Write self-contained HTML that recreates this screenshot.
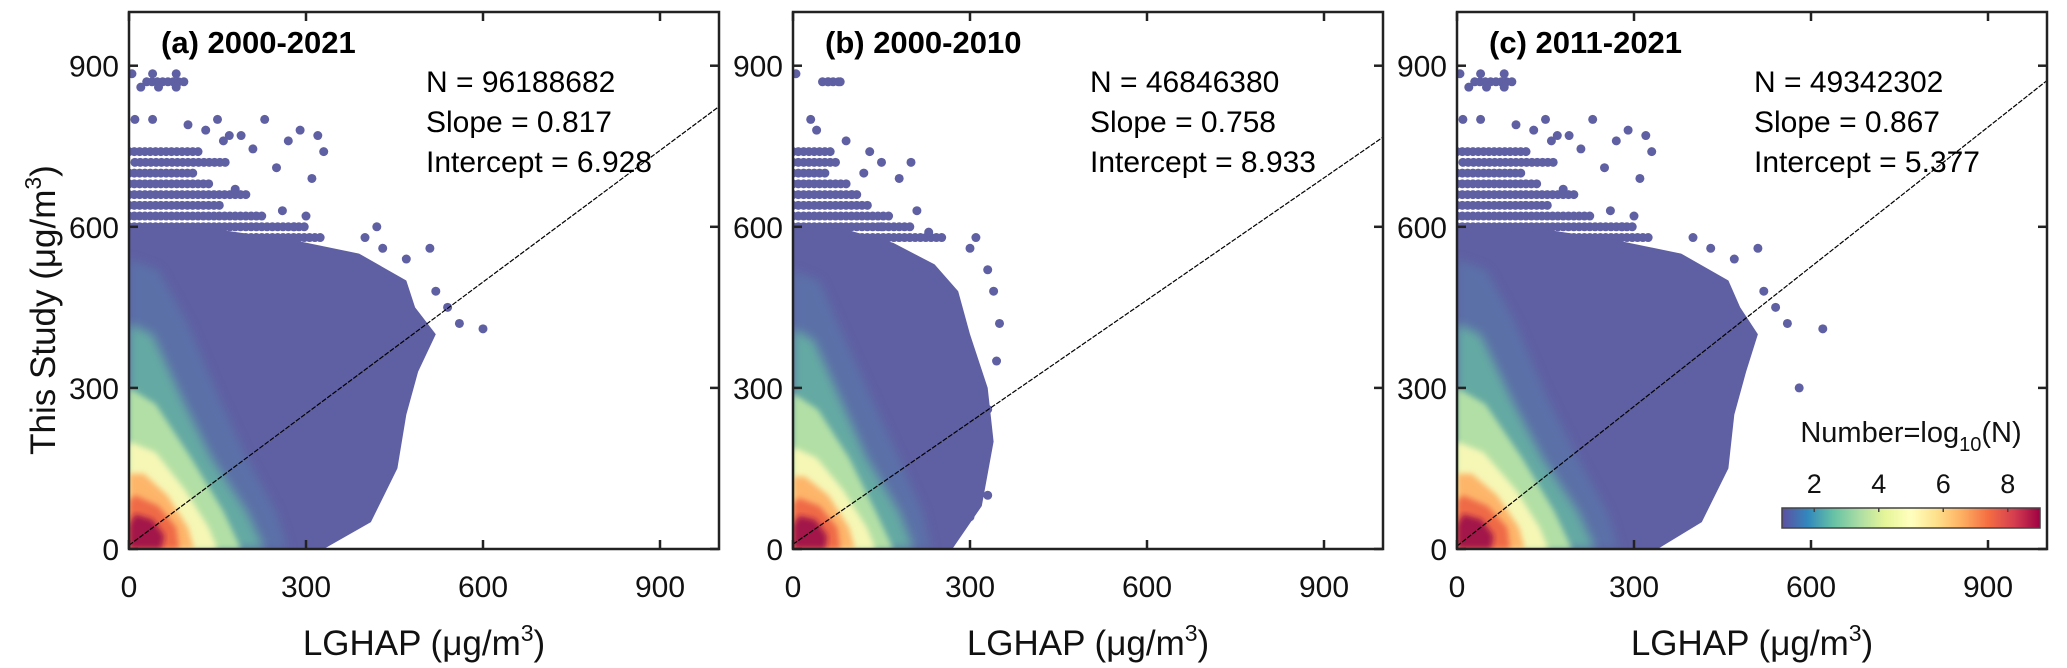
<!DOCTYPE html>
<html><head><meta charset="utf-8">
<style>
body{margin:0;background:#fff;}
svg{display:block;font-family:"Liberation Sans",Arial,sans-serif;}
</style></head>
<body>
<svg id="fig" width="2067" height="668" viewBox="0 0 2067 668" xmlns="http://www.w3.org/2000/svg">
<defs>
<filter id="blur" x="-10%" y="-10%" width="120%" height="120%"><feGaussianBlur stdDeviation="5"/></filter>
<filter id="blur2" x="-10%" y="-10%" width="120%" height="120%"><feGaussianBlur stdDeviation="3"/></filter>
<linearGradient id="spectral" x1="0" x2="1" y1="0" y2="0">
<stop offset="0" stop-color="#5e4fa2"/><stop offset="0.1" stop-color="#3288bd"/><stop offset="0.2" stop-color="#66c2a5"/>
<stop offset="0.3" stop-color="#abdda4"/><stop offset="0.4" stop-color="#e6f598"/><stop offset="0.5" stop-color="#ffffbf"/>
<stop offset="0.6" stop-color="#fee08b"/><stop offset="0.7" stop-color="#fdae61"/><stop offset="0.8" stop-color="#f46d43"/>
<stop offset="0.9" stop-color="#d53e4f"/><stop offset="1" stop-color="#9e0142"/>
</linearGradient>
</defs>
<g id="panels"></g>
<g id="cbar"></g>
</svg>
<script>
// ---- data ----
const panelTitles = ["(a) 2000-2021", "(b) 2000-2010", "(c) 2011-2021"];
const nValues = ["96188682", "46846380", "49342302"];
const slopes = [0.817, 0.758, 0.867];
const intercepts = [6.928, 8.933, 5.377];
const tickValues = [0, 300, 600, 900];
const cbarTicks = [2, 4, 6, 8];
const cbarRange = [1, 9];
const layerColors = ["#5f5fa3", "#5a78aa", "#66b4a3", "#b2dfa5", "#f6f7b5", "#fdb56a", "#ef6a47", "#a3154a"];
// density envelopes (data coords [LGHAP, ThisStudy]) per panel, per layer
const layersA = [
 [[0,0],[330,0],[410,50],[455,150],[470,250],[490,330],[520,400],[485,450],[470,500],[390,550],[280,575],[150,595],[0,600]],
 [[0,0],[270,0],[250,70],[200,170],[150,290],[100,420],[50,520],[0,540]],
 [[0,0],[230,0],[200,70],[140,170],[90,280],[40,400],[0,420]],
 [[0,0],[190,0],[160,70],[105,170],[45,270],[0,300]],
 [[0,0],[150,0],[135,40],[95,110],[45,180],[0,200]],
 [[0,0],[110,0],[100,40],[65,100],[25,140],[0,140]],
 [[0,0],[85,0],[80,40],[50,80],[10,100],[0,90]],
 [[0,0],[55,0],[60,25],[40,55],[10,65],[0,45]]
];
const layersB = [
 [[0,0],[270,0],[320,80],[340,200],[330,300],[300,400],[280,480],[240,530],[170,570],[90,595],[0,600]],
 [[0,0],[235,0],[220,70],[180,170],[130,290],[85,400],[45,500],[0,520]],
 [[0,0],[205,0],[180,70],[125,170],[80,280],[35,390],[0,410]],
 [[0,0],[170,0],[140,70],[95,170],[42,260],[0,290]],
 [[0,0],[140,0],[125,40],[85,110],[40,170],[0,190]],
 [[0,0],[105,0],[95,40],[60,100],[20,135],[0,135]],
 [[0,0],[80,0],[75,40],[45,80],[10,95],[0,85]],
 [[0,0],[55,0],[58,25],[38,55],[10,62],[0,45]]
];
const layersC = [
 [[0,0],[340,0],[415,50],[460,150],[470,250],[490,330],[510,400],[480,450],[460,500],[380,550],[270,575],[150,595],[0,600]],
 [[0,0],[275,0],[255,70],[205,170],[150,290],[100,420],[50,520],[0,540]],
 [[0,0],[235,0],[205,70],[145,170],[92,280],[40,400],[0,420]],
 [[0,0],[195,0],[165,70],[110,170],[48,270],[0,300]],
 [[0,0],[155,0],[140,40],[100,110],[45,180],[0,200]],
 [[0,0],[115,0],[105,40],[68,100],[25,140],[0,140]],
 [[0,0],[90,0],[85,40],[52,80],[10,100],[0,90]],
 [[0,0],[58,0],[62,25],[42,55],[10,65],[0,45]]
];
// sparse rows [y, x0, x1] and isolated outliers [x, y]
const rowsA = [[870,30,100],[740,0,120],[720,10,170],[700,0,110],[680,0,140],[660,0,200],[640,0,160],[620,0,230],[600,0,300],[580,0,330]];
const rowsB = [[870,50,80],[740,0,70],[720,0,80],[700,0,60],[680,0,90],[660,0,110],[640,0,130],[620,0,170],[600,0,200],[580,0,260]];
const rowsC = [[870,30,100],[740,0,120],[720,10,170],[700,0,110],[680,0,140],[660,0,200],[640,0,160],[620,0,230],[600,0,300],[580,0,330]];
const outA = [[5,885],[40,885],[80,885],[20,860],[50,860],[80,860],[10,800],[40,800],[100,790],[150,800],[130,780],[230,800],[170,770],[190,770],[160,760],[210,745],[270,760],[290,780],[320,770],[330,740],[250,710],[310,690],[180,670],[280,600],[260,630],[300,620],[400,580],[430,560],[470,540],[560,420],[600,410],[520,480],[510,560],[350,520],[540,450],[420,600]];
const outB = [[5,885],[60,870],[80,870],[30,800],[40,780],[90,760],[130,740],[150,720],[200,720],[120,700],[180,690],[100,660],[210,630],[150,600],[230,590],[310,580],[300,560],[330,520],[340,480],[350,420],[345,350],[330,260],[310,220],[320,150],[300,60],[330,100]];
const outC = [[5,885],[40,885],[80,885],[20,860],[50,860],[80,860],[10,800],[40,800],[100,790],[150,800],[130,780],[230,800],[170,770],[190,770],[160,760],[210,745],[270,760],[290,780],[320,770],[330,740],[250,710],[310,690],[180,670],[280,600],[260,630],[300,620],[400,580],[430,560],[470,540],[560,420],[620,410],[520,480],[510,560],[350,520],[540,450],[580,300]];
const allLayers = [layersA, layersB, layersC];
const allRows = [rowsA, rowsB, rowsC];
const allOut = [outA, outB, outC];

// ---- layout ----
const NS = "http://www.w3.org/2000/svg";
const lefts = [129, 793, 1457];
const W = 590, TOP = 12, BOT = 549, MAXV = 1000;
function el(tag, attrs, parent, text){
  const e = document.createElementNS(NS, tag);
  for (const k in attrs) e.setAttribute(k, attrs[k]);
  if (text !== undefined) e.textContent = text;
  parent.appendChild(e); return e;
}
const root = document.getElementById("panels");
for (let p = 0; p < 3; p++){
  const L = lefts[p];
  const X = v => L + v / MAXV * W;
  const Y = v => BOT - v / MAXV * (BOT - TOP);
  const g = el("g", {}, root);
  
  
  const cid = "clip" + p;
  const cp = el("clipPath", {id: cid}, g);
  el("rect", {x: L, y: TOP, width: W, height: BOT - TOP}, cp);
  const plot = el("g", {"clip-path": "url(#" + cid + ")"}, g);
  
  
  allRows[p].forEach(r => {
    for (let x = r[1]; x <= r[2]; x += 9){
      const c = el("circle", {cx: X(x), cy: Y(r[0]), r: 4.5, fill: layerColors[0]}, plot);
      
      
    }
  });
  allOut[p].forEach(o => {
    const c = el("circle", {cx: X(o[0]), cy: Y(o[1]), r: 4.5, fill: layerColors[0]}, plot);
    
    
  });
  allLayers[p].forEach((poly, i) => {
    const pts = poly.map(q => X(q[0]).toFixed(1) + "," + Y(q[1]).toFixed(1)).join(" ");
    const a = {points: pts, fill: layerColors[i]};
    if (i > 0) a.filter = i < 3 ? "url(#blur)" : "url(#blur2)";
    if (i === 1) a.opacity = 0.7;
    if (i === 2) a.opacity = 0.85;
    const pg = el("polygon", a, plot);
    
    
  });
  const ln = el("line", {x1: X(0), y1: Y(intercepts[p]), x2: X(1000), y2: Y(slopes[p]*1000 + intercepts[p]), stroke: "#000", "stroke-width": 1.2, "stroke-dasharray": "5,1.5"}, plot);
  
  
  const bx = el("rect", {x: L, y: TOP, width: W, height: BOT - TOP, fill: "none", stroke: "#222", "stroke-width": 2.5}, g);
  
  
  tickValues.forEach(t => {
    const tx = X(t), ty = Y(t);
    el("line", {x1: tx, y1: BOT, x2: tx, y2: BOT - 9, stroke: "#222", "stroke-width": 2.5}, g);
    el("line", {x1: tx, y1: TOP, x2: tx, y2: TOP + 9, stroke: "#222", "stroke-width": 2.5}, g);
    el("line", {x1: L, y1: ty, x2: L + 9, y2: ty, stroke: "#222", "stroke-width": 2.5}, g);
    el("line", {x1: L + W, y1: ty, x2: L + W - 9, y2: ty, stroke: "#222", "stroke-width": 2.5}, g);
    const xl = el("text", {x: tx, y: 597, "text-anchor": "middle", "font-size": 30, fill: "#111"}, g, String(t));
    
    
    const yl = el("text", {x: L - 10, y: ty + 11, "text-anchor": "end", "font-size": 30, fill: "#111"}, g, String(t));
    
    
  });
  const title = el("text", {x: L + 32, y: 53, "font-size": 31, "font-weight": "bold", fill: "#000"}, g, panelTitles[p]);
  
  
  const stats = ["N = " + nValues[p], "Slope = " + slopes[p].toFixed(3), "Intercept = " + intercepts[p].toFixed(3)];
  stats.forEach((s, i) => {
    const t = el("text", {x: L + 297, y: 92 + i * 40, "font-size": 30, fill: "#000"}, g, s);
    
    
  });
  const xt = el("text", {x: L + W/2, y: 655, "text-anchor": "middle", "font-size": 35, fill: "#111"}, g);
  
  
  xt.appendChild(document.createTextNode("LGHAP (μg/m"));
  el("tspan", {"font-size": 23, dy: -14}, xt, "3");
  el("tspan", {dy: 14}, xt, ")");
}
const yt = el("text", {x: 0, y: 0, transform: "translate(55,310) rotate(-90)", "text-anchor": "middle", "font-size": 35, fill: "#111"}, root);


yt.appendChild(document.createTextNode("This Study (μg/m"));
el("tspan", {"font-size": 23, dy: -14}, yt, "3");
el("tspan", {dy: 14}, yt, ")");
// colorbar
const cb = document.getElementById("cbar");


const CB0 = 1782, CB1 = 2040;
const CX = v => CB0 + (v - cbarRange[0]) / (cbarRange[1] - cbarRange[0]) * (CB1 - CB0);
const cr = el("rect", {x: CB0, y: 508, width: CB1 - CB0, height: 20, fill: "url(#spectral)", stroke: "#444", "stroke-width": 1.5}, cb);


cbarTicks.forEach(t => {
  el("line", {x1: CX(t), y1: 508, x2: CX(t), y2: 512, stroke: "#444", "stroke-width": 1.5}, cb);
  const tl = el("text", {x: CX(t), y: 493, "text-anchor": "middle", "font-size": 27, fill: "#111"}, cb, String(t));
  
  
});
const ctl = el("text", {x: 1911, y: 442, "text-anchor": "middle", "font-size": 29, fill: "#111"}, cb);


ctl.appendChild(document.createTextNode("Number=log"));
el("tspan", {"font-size": 20, dy: 9}, ctl, "10");
el("tspan", {dy: -9}, ctl, "(N)");
</script>
</body></html>
